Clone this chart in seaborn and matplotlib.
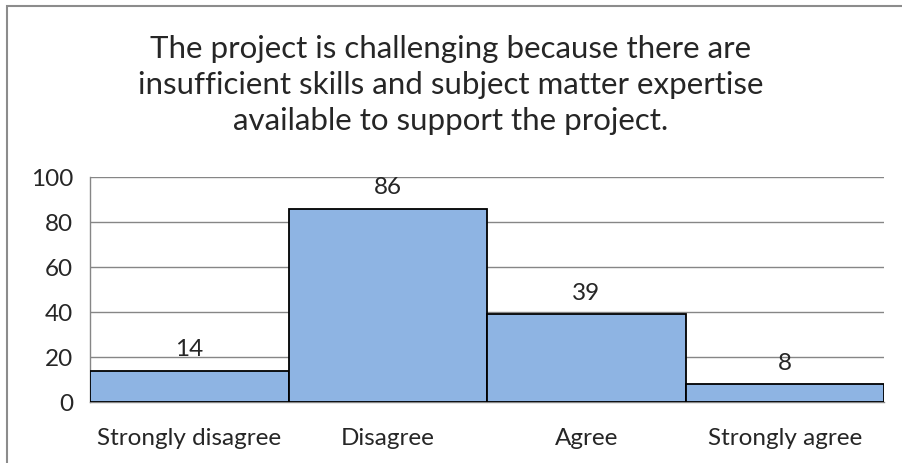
import matplotlib
matplotlib.use("Agg")
import matplotlib.pyplot as plt
import seaborn as sns
import pandas as pd
from matplotlib.patches import Rectangle

# Chart data
categories = ["Strongly disagree", "Disagree", "Agree", "Strongly agree"]
counts = [14, 86, 39, 8]
title = ("The project is challenging because there are\n"
         "insufficient skills and subject matter expertise\n"
         "available to support the project.")

df = pd.DataFrame({"Response": categories, "Count": counts})

sns.set_style("white")
plt.rcParams["font.family"] = ["Lato", "DejaVu Sans"]

W, H = 902, 464
fig = plt.figure(figsize=(W / 100, H / 100), dpi=100)

# outer chart border (only top/left visible in the crop)
fig.patches.append(Rectangle((7 / W, -0.1), 2, 1 - 7 / H + 0.1, transform=fig.transFigure,
                             fill=False, edgecolor="#8c8c8c", linewidth=1.5))

ax = fig.add_axes([90 / W, (H - 403) / H, (884 - 90) / W, (403 - 178) / H])
sns.barplot(data=df, x="Response", y="Count", color="#8EB4E3", width=1.0,
            edgecolor="black", linewidth=1.3, saturation=1, ax=ax, zorder=3)

ax.set_xlim(-0.5, 3.5)
ax.set_ylim(0, 100)
ax.set_yticks(range(0, 101, 20))
ax.yaxis.grid(True, color="#868686", linewidth=1)
ax.set_axisbelow(True)
for s in ["top", "right"]:
    ax.spines[s].set_visible(False)
for s in ["left", "bottom"]:
    ax.spines[s].set_color("#868686")
    ax.spines[s].set_linewidth(1)

# x ticks at category boundaries, labels centered
ax.set_xticks([-0.5, 0.5, 1.5, 2.5, 3.5])
ax.set_xticklabels([])
ax.set_xticks(range(len(categories)), minor=True)
ax.set_xticklabels(categories, minor=True, fontsize=17.5)
ax.tick_params(axis="x", which="major", length=6, color="#868686", direction="out")
ax.tick_params(axis="x", which="minor", length=0, pad=18)
ax.tick_params(axis="y", length=8, color="#868686", labelsize=17.5, pad=4)
ax.set_xlabel("")
ax.set_ylabel("")

for i, v in enumerate(counts):
    ax.annotate(str(v), (i, v), xytext=(0, 8), textcoords="offset points",
                ha="center", va="bottom", fontsize=17.5)

fig.text(0.5, (H - 85) / H, title, ha="center", va="center", fontsize=22.5,
         linespacing=1.34)

fig.savefig("out.png", dpi=100)
